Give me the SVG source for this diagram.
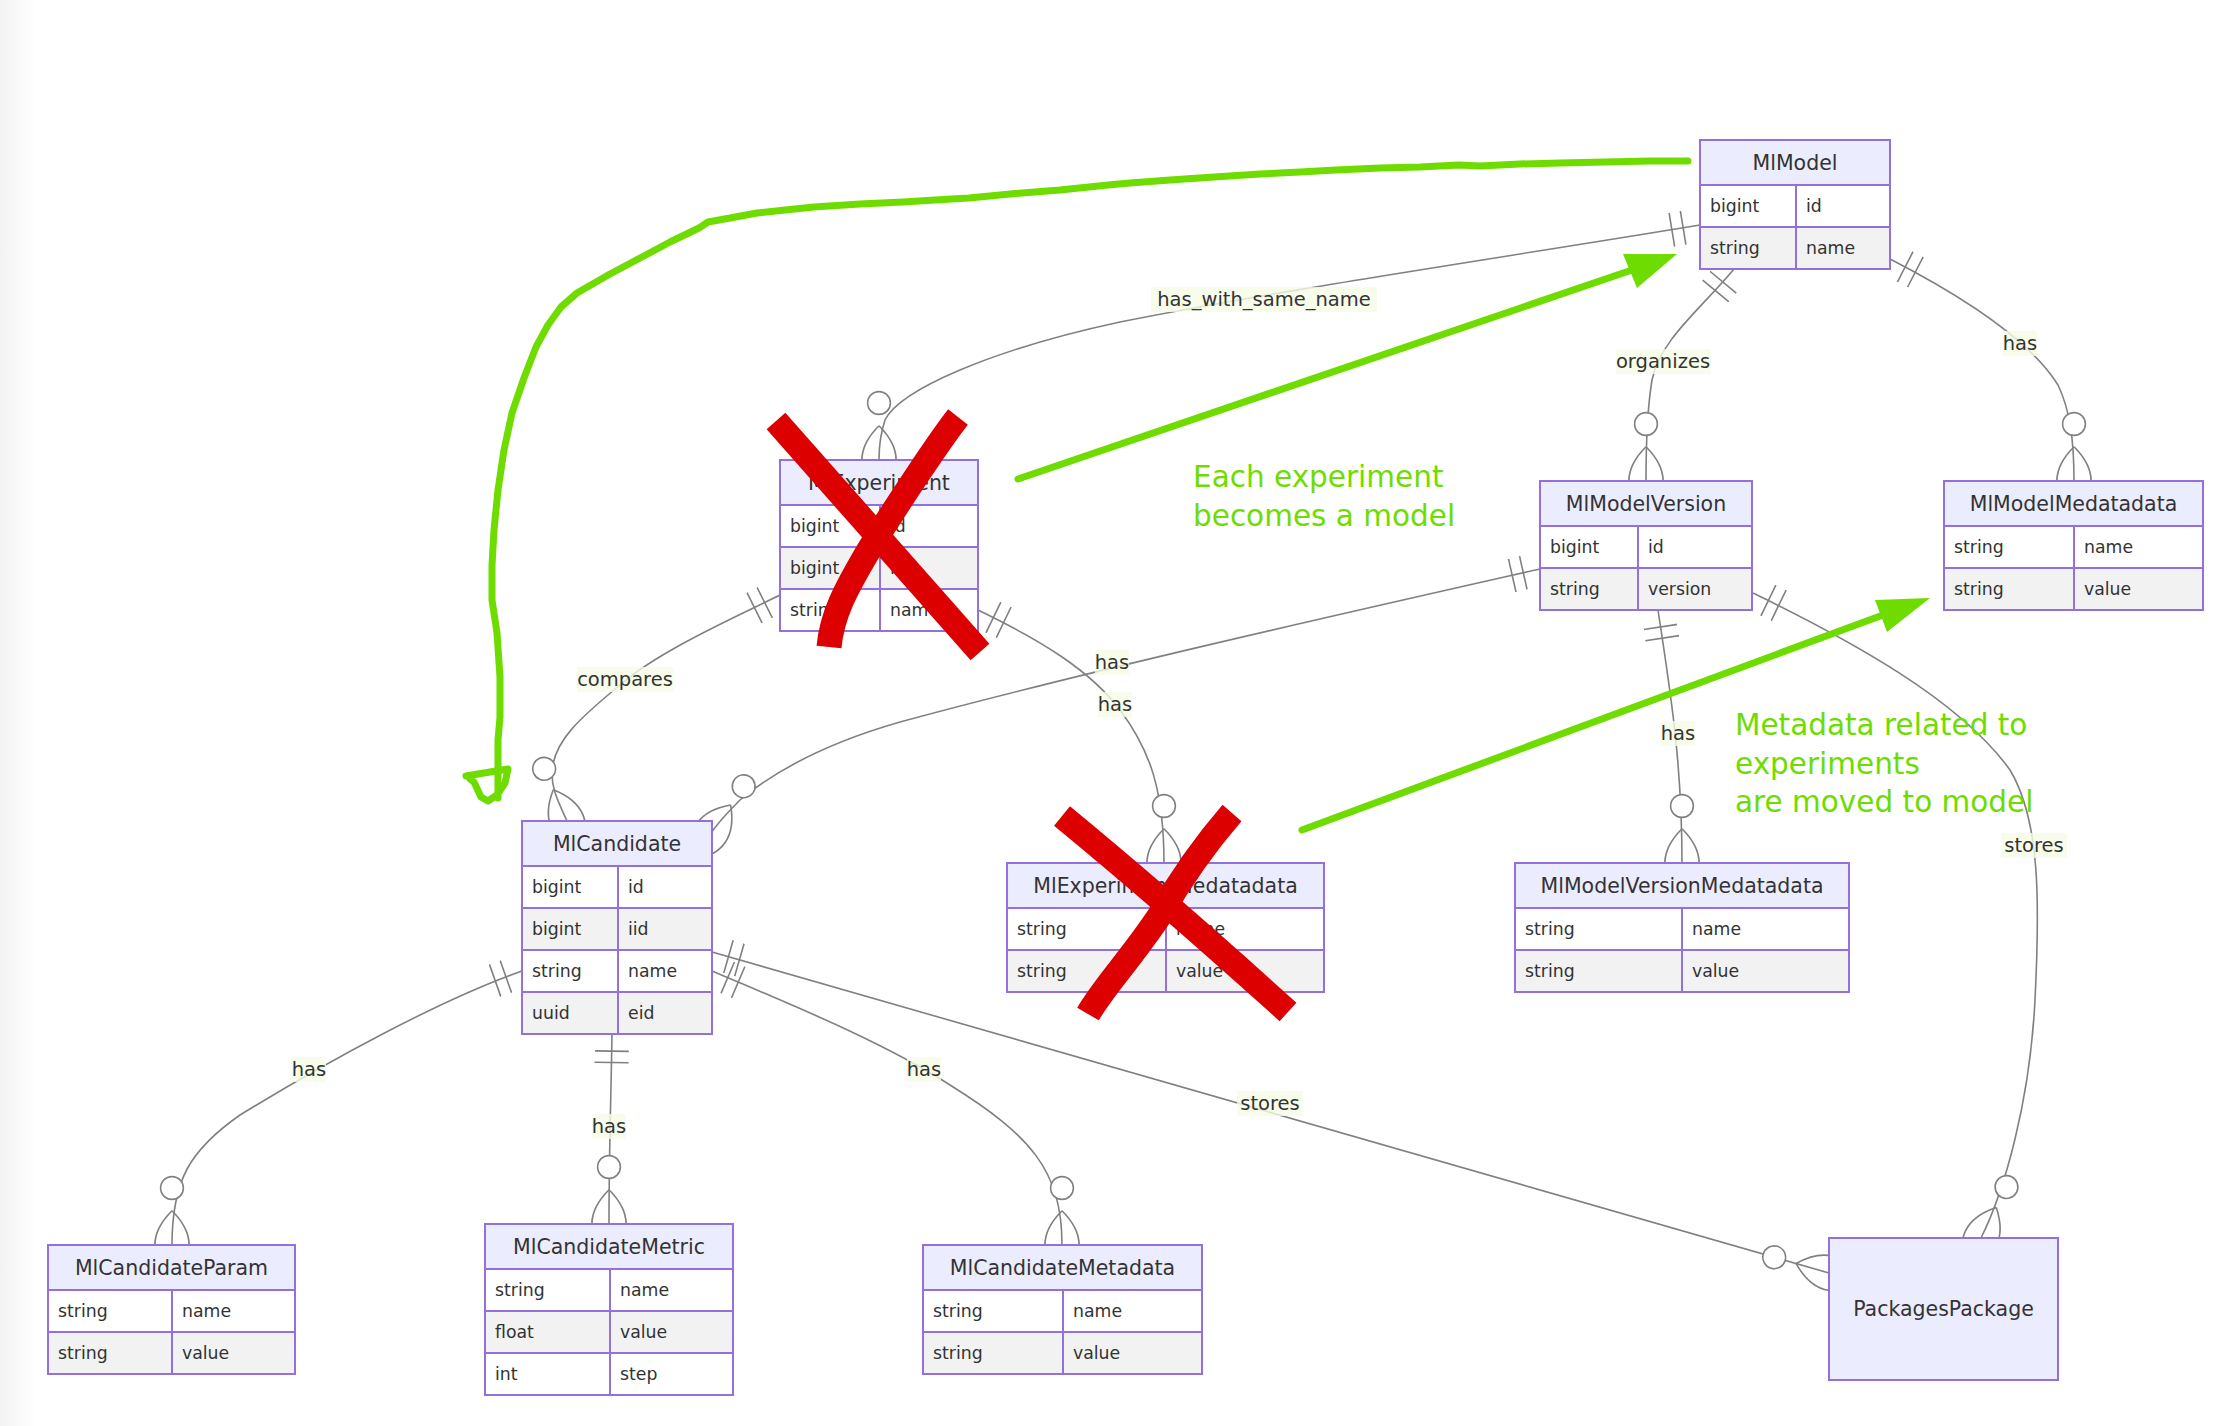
<svg xmlns="http://www.w3.org/2000/svg" width="2230" height="1426" viewBox="0 0 2230 1426">
<style>
.bg{fill:#ffffff}
.hd{fill:#ececff;stroke:#9370db;stroke-width:2}
.odd{fill:#ffffff;stroke:#9370db;stroke-width:2}
.even{fill:#f2f2f2;stroke:#9370db;stroke-width:2}
.tt{font-family:"DejaVu Sans",Verdana,sans-serif;font-size:20.5px;fill:#333333;text-anchor:middle}
.at{font-family:"DejaVu Sans",Verdana,sans-serif;font-size:17.3px;fill:#333333}
.rel{fill:none;stroke:#808080;stroke-width:1.6}
.lb{fill:#f6fbe6;opacity:0.8}
.lt{font-family:"DejaVu Sans",Verdana,sans-serif;font-size:19.5px;fill:#333333;text-anchor:middle}
.g{fill:none;stroke:#6fdc00;stroke-width:7;stroke-linecap:round;stroke-linejoin:round}
.gf{fill:#6fdc00;stroke:none}
.gt{font-family:"DejaVu Sans",Verdana,sans-serif;font-size:29.5px;fill:#6fdc00}
.r{fill:none;stroke:#dd0000;stroke-width:25;stroke-linecap:butt;stroke-linejoin:round}
</style>
<defs>
<linearGradient id="shade" x1="0" y1="0" x2="1" y2="0">
<stop offset="0" stop-color="#000000" stop-opacity="0.05"/>
<stop offset="1" stop-color="#000000" stop-opacity="0"/>
</linearGradient>
<marker id="one" markerUnits="userSpaceOnUse" viewBox="0 0 18 18" refX="0" refY="9" markerWidth="34.2" markerHeight="34.2" orient="auto">
<path d="M9,0 L9,18 M15,0 L15,18" fill="none" stroke="#808080" stroke-width="0.84"/>
</marker>
<marker id="many" markerUnits="userSpaceOnUse" viewBox="0 0 57 36" refX="39" refY="18" markerWidth="108.3" markerHeight="68.4" orient="auto">
<circle cx="9" cy="18" r="6" fill="#ffffff" stroke="#808080" stroke-width="0.84"/>
<path d="M21,18 Q39,0 57,18 Q39,36 21,18" fill="none" stroke="#808080" stroke-width="0.84"/>
</marker>
</defs>
<rect class="bg" x="0" y="0" width="2230" height="1426"/>
<rect x="0" y="0" width="36" height="1426" fill="url(#shade)"/>

<g id="connectors">
<path class="rel" marker-start="url(#one)" marker-end="url(#many)" d="M1700,225 C1500,258 1280,290 1120,322 C990,350 900,390 885,420 C880,435 879,445 879,460"/>
<path class="rel" marker-start="url(#one)" marker-end="url(#many)" d="M1734,269 C1700,310 1660,340 1652,380 C1647,410 1646,440 1646,481"/>
<path class="rel" marker-start="url(#one)" marker-end="url(#many)" d="M1890,259 C1960,295 2030,340 2058,385 C2070,410 2074,440 2074,481"/>
<path class="rel" marker-start="url(#one)" marker-end="url(#many)" d="M780,595 C740,615 660,650 620,685 C580,718 555,740 552,770 C551,790 560,805 567,821"/>
<path class="rel" marker-start="url(#one)" marker-end="url(#many)" d="M978,610 C1040,640 1090,670 1120,710 C1150,750 1164,790 1164,863"/>
<path class="rel" marker-start="url(#one)" marker-end="url(#many)" d="M1540,569 C1350,612 1100,668 900,722 C820,745 770,775 740,800 C728,812 718,823 711,833"/>
<path class="rel" marker-start="url(#one)" marker-end="url(#many)" d="M1658,610 C1670,690 1682,760 1682,863"/>
<path class="rel" marker-start="url(#one)" marker-end="url(#many)" d="M1753,593 C1850,640 1960,700 2010,770 C2040,820 2040,900 2035,1000 C2030,1100 2005,1190 1981,1238"/>
<path class="rel" marker-start="url(#one)" marker-end="url(#many)" d="M522,971 C440,1000 330,1060 240,1115 C190,1150 172,1180 172,1245"/>
<path class="rel" marker-start="url(#one)" marker-end="url(#many)" d="M612,1034 C611,1100 609,1150 609,1224"/>
<path class="rel" marker-start="url(#one)" marker-end="url(#many)" d="M712,971 C780,1000 880,1040 950,1085 C1030,1135 1062,1170 1062,1245"/>
<path class="rel" marker-start="url(#one)" marker-end="url(#many)" d="M712,952 L1829,1273"/>
</g>

<g id="MlModel">
<rect class="hd" x="1700" y="140" width="190" height="45"/>
<rect class="odd" x="1700" y="185" width="96" height="42"/><rect class="odd" x="1796" y="185" width="94" height="42"/>
<rect class="even" x="1700" y="227" width="96" height="42"/><rect class="even" x="1796" y="227" width="94" height="42"/>
<text class="tt" x="1795" y="170">MlModel</text>
<text class="at" x="1710" y="212">bigint</text><text class="at" x="1806" y="212">id</text>
<text class="at" x="1710" y="254">string</text><text class="at" x="1806" y="254">name</text>
</g>

<g id="MlExperiment">
<rect class="hd" x="780" y="460" width="198" height="45"/>
<rect class="odd" x="780" y="505" width="100" height="42"/><rect class="odd" x="880" y="505" width="98" height="42"/>
<rect class="even" x="780" y="547" width="100" height="42"/><rect class="even" x="880" y="547" width="98" height="42"/>
<rect class="odd" x="780" y="589" width="100" height="42"/><rect class="odd" x="880" y="589" width="98" height="42"/>
<text class="tt" x="879" y="490">MlExperiment</text>
<text class="at" x="790" y="532">bigint</text><text class="at" x="890" y="532">id</text>
<text class="at" x="790" y="574">bigint</text><text class="at" x="890" y="574">iid</text>
<text class="at" x="790" y="616">string</text><text class="at" x="890" y="616">name</text>
</g>

<g id="MlModelVersion">
<rect class="hd" x="1540" y="481" width="212" height="45"/>
<rect class="odd" x="1540" y="526" width="98" height="42"/><rect class="odd" x="1638" y="526" width="114" height="42"/>
<rect class="even" x="1540" y="568" width="98" height="42"/><rect class="even" x="1638" y="568" width="114" height="42"/>
<text class="tt" x="1646" y="511">MlModelVersion</text>
<text class="at" x="1550" y="553">bigint</text><text class="at" x="1648" y="553">id</text>
<text class="at" x="1550" y="595">string</text><text class="at" x="1648" y="595">version</text>
</g>

<g id="MlModelMedatadata">
<rect class="hd" x="1944" y="481" width="259" height="45"/>
<rect class="odd" x="1944" y="526" width="130" height="42"/><rect class="odd" x="2074" y="526" width="129" height="42"/>
<rect class="even" x="1944" y="568" width="130" height="42"/><rect class="even" x="2074" y="568" width="129" height="42"/>
<text class="tt" x="2073.5" y="511">MlModelMedatadata</text>
<text class="at" x="1954" y="553">string</text><text class="at" x="2084" y="553">name</text>
<text class="at" x="1954" y="595">string</text><text class="at" x="2084" y="595">value</text>
</g>

<g id="MlCandidate">
<rect class="hd" x="522" y="821" width="190" height="45"/>
<rect class="odd" x="522" y="866" width="96" height="42"/><rect class="odd" x="618" y="866" width="94" height="42"/>
<rect class="even" x="522" y="908" width="96" height="42"/><rect class="even" x="618" y="908" width="94" height="42"/>
<rect class="odd" x="522" y="950" width="96" height="42"/><rect class="odd" x="618" y="950" width="94" height="42"/>
<rect class="even" x="522" y="992" width="96" height="42"/><rect class="even" x="618" y="992" width="94" height="42"/>
<text class="tt" x="617" y="851">MlCandidate</text>
<text class="at" x="532" y="893">bigint</text><text class="at" x="628" y="893">id</text>
<text class="at" x="532" y="935">bigint</text><text class="at" x="628" y="935">iid</text>
<text class="at" x="532" y="977">string</text><text class="at" x="628" y="977">name</text>
<text class="at" x="532" y="1019">uuid</text><text class="at" x="628" y="1019">eid</text>
</g>

<g id="MlExperimentMedatadata">
<rect class="hd" x="1007" y="863" width="317" height="45"/>
<rect class="odd" x="1007" y="908" width="159" height="42"/><rect class="odd" x="1166" y="908" width="158" height="42"/>
<rect class="even" x="1007" y="950" width="159" height="42"/><rect class="even" x="1166" y="950" width="158" height="42"/>
<text class="tt" x="1165.5" y="893">MlExperimentMedatadata</text>
<text class="at" x="1017" y="935">string</text><text class="at" x="1176" y="935">name</text>
<text class="at" x="1017" y="977">string</text><text class="at" x="1176" y="977">value</text>
</g>

<g id="MlModelVersionMedatadata">
<rect class="hd" x="1515" y="863" width="334" height="45"/>
<rect class="odd" x="1515" y="908" width="167" height="42"/><rect class="odd" x="1682" y="908" width="167" height="42"/>
<rect class="even" x="1515" y="950" width="167" height="42"/><rect class="even" x="1682" y="950" width="167" height="42"/>
<text class="tt" x="1682" y="893">MlModelVersionMedatadata</text>
<text class="at" x="1525" y="935">string</text><text class="at" x="1692" y="935">name</text>
<text class="at" x="1525" y="977">string</text><text class="at" x="1692" y="977">value</text>
</g>

<g id="MlCandidateParam">
<rect class="hd" x="48" y="1245" width="247" height="45"/>
<rect class="odd" x="48" y="1290" width="124" height="42"/><rect class="odd" x="172" y="1290" width="123" height="42"/>
<rect class="even" x="48" y="1332" width="124" height="42"/><rect class="even" x="172" y="1332" width="123" height="42"/>
<text class="tt" x="171.5" y="1275">MlCandidateParam</text>
<text class="at" x="58" y="1317">string</text><text class="at" x="182" y="1317">name</text>
<text class="at" x="58" y="1359">string</text><text class="at" x="182" y="1359">value</text>
</g>

<g id="MlCandidateMetric">
<rect class="hd" x="485" y="1224" width="248" height="45"/>
<rect class="odd" x="485" y="1269" width="125" height="42"/><rect class="odd" x="610" y="1269" width="123" height="42"/>
<rect class="even" x="485" y="1311" width="125" height="42"/><rect class="even" x="610" y="1311" width="123" height="42"/>
<rect class="odd" x="485" y="1353" width="125" height="42"/><rect class="odd" x="610" y="1353" width="123" height="42"/>
<text class="tt" x="609" y="1254">MlCandidateMetric</text>
<text class="at" x="495" y="1296">string</text><text class="at" x="620" y="1296">name</text>
<text class="at" x="495" y="1338">float</text><text class="at" x="620" y="1338">value</text>
<text class="at" x="495" y="1380">int</text><text class="at" x="620" y="1380">step</text>
</g>

<g id="MlCandidateMetadata">
<rect class="hd" x="923" y="1245" width="279" height="45"/>
<rect class="odd" x="923" y="1290" width="140" height="42"/><rect class="odd" x="1063" y="1290" width="139" height="42"/>
<rect class="even" x="923" y="1332" width="140" height="42"/><rect class="even" x="1063" y="1332" width="139" height="42"/>
<text class="tt" x="1062.5" y="1275">MlCandidateMetadata</text>
<text class="at" x="933" y="1317">string</text><text class="at" x="1073" y="1317">name</text>
<text class="at" x="933" y="1359">string</text><text class="at" x="1073" y="1359">value</text>
</g>

<g id="PackagesPackage">
<rect class="hd" x="1829" y="1238" width="229" height="142"/>
<text class="tt" x="1943.5" y="1316">PackagesPackage</text>
</g>

<g id="labels">
<rect class="lb" x="1151" y="287" width="226" height="25"/><text class="lt" x="1264" y="306">has_with_same_name</text>
<rect class="lb" x="1616" y="349" width="95" height="25"/><text class="lt" x="1663" y="368">organizes</text>
<rect class="lb" x="2003" y="331" width="34" height="25"/><text class="lt" x="2020" y="350">has</text>
<rect class="lb" x="577" y="667" width="96" height="25"/><text class="lt" x="625" y="686">compares</text>
<rect class="lb" x="1095" y="650" width="34" height="25"/><text class="lt" x="1112" y="669">has</text>
<rect class="lb" x="1098" y="692" width="34" height="25"/><text class="lt" x="1115" y="711">has</text>
<rect class="lb" x="1661" y="721" width="34" height="25"/><text class="lt" x="1678" y="740">has</text>
<rect class="lb" x="2001" y="833" width="66" height="25"/><text class="lt" x="2034" y="852">stores</text>
<rect class="lb" x="292" y="1057" width="34" height="25"/><text class="lt" x="309" y="1076">has</text>
<rect class="lb" x="592" y="1114" width="34" height="25"/><text class="lt" x="609" y="1133">has</text>
<rect class="lb" x="907" y="1057" width="34" height="25"/><text class="lt" x="924" y="1076">has</text>
<rect class="lb" x="1237" y="1091" width="66" height="25"/><text class="lt" x="1270" y="1110">stores</text>
</g>

<g id="annotations">
<polyline class="g" points="1688,161 1650,161 1605,162 1560,163 1520,164 1480,166 1459,165 1420,167 1380,168 1336,170 1300,172 1260,174 1214,177 1170,180 1130,183 1108,185 1060,190 1010,194 969,198 935,200 903,202 860,204 814,207 785,210 757,213 730,218 708,222 699,228 670,242 642,257 610,274 577,293 561,307 548,325 536,347 524,378 512,413 504,450 498,490 494,530 492,565 492,600 497,633 500,677 500,717 498,740 498,798"/>
<polyline class="g" points="466,776 508,769 505,783 497,795 488,801 481,797 474,782 470,779"/>
<line class="g" x1="1018" y1="479" x2="1632" y2="270"/>
<polygon class="gf" points="1677,254 1623,254 1637,288"/>
<line class="g" x1="1302" y1="830" x2="1883" y2="615"/>
<polygon class="gf" points="1930,598 1875,600 1887,632"/>
<text class="gt" x="1193" y="487">Each experiment</text>
<text class="gt" x="1193" y="525.5">becomes a model</text>
<text class="gt" x="1735" y="735">Metadata related to</text>
<text class="gt" x="1735" y="773.5">experiments</text>
<text class="gt" x="1735" y="812">are moved to model</text>
<path class="r" d="M776,421 L980,652"/>
<path class="r" d="M958,417 C940,440 900,500 870,548 C845,590 832,615 829,647"/>
<path class="r" d="M1062,816 Q1170,905 1288,1012"/>
<path class="r" d="M1232,813 C1200,850 1180,880 1160,915 C1130,960 1105,985 1088,1014"/>
</g>
</svg>
